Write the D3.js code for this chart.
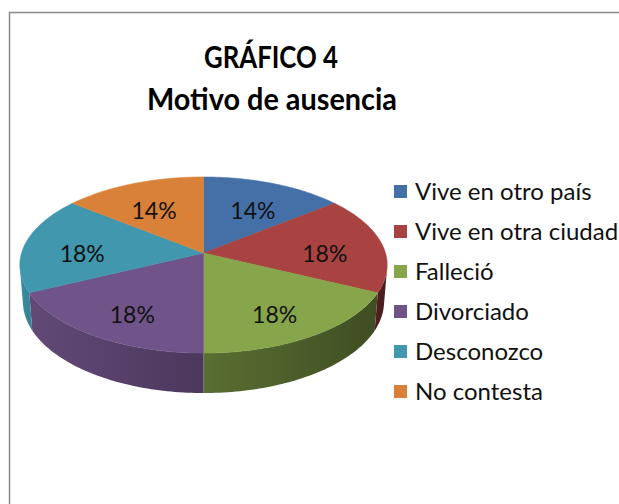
<!DOCTYPE html>
<html>
<head>
<meta charset="utf-8">
<script src="https://cdn.jsdelivr.net/npm/d3@7"></script>
<style>
  body { margin: 0; background: #fff; }
  svg { display: block; }
  text { font-family: Lato, "Open Sans", sans-serif; }
</style>
</head>
<body>
<div id="chart"></div>
<script>
// Chart data
const categories = ["Vive en otro país", "Vive en otra ciudad", "Falleció", "Divorciado", "Desconozco", "No contesta"];
const values = [4, 5, 5, 5, 5, 4];
const colors = ["#4470A7", "#A84342", "#87A54A", "#705489", "#4097AE", "#D98139"];
const titleLines = ["GRÁFICO 4", "Motivo de ausencia"];

const width = 619, height = 504;

const svg = d3.select("#chart")
  .append("svg")
  .attr("width", width)
  .attr("height", height);

const defs = svg.append("defs");

// Chart area border (runs off the right and bottom of the picture)
svg.append("rect")
  .attr("x", 9.5)
  .attr("y", 12.5)
  .attr("width", width + 20)
  .attr("height", height + 20)
  .attr("fill", "none")
  .attr("stroke", "#8a8a8a")
  .attr("stroke-width", 1.5);

// Title (Calibri-like proportions: squeeze the wider fallback font)
svg.append("text")
  .attr("x", 271)
  .attr("y", 68)
  .attr("text-anchor", "middle")
  .attr("font-size", 30)
  .attr("font-weight", "bold")
  .attr("textLength", 134)
  .attr("lengthAdjust", "spacingAndGlyphs")
  .attr("fill", "#000")
  .text(titleLines[0]);

svg.append("text")
  .attr("x", 272)
  .attr("y", 110)
  .attr("text-anchor", "middle")
  .attr("font-size", 30)
  .attr("font-weight", "bold")
  .attr("textLength", 250)
  .attr("lengthAdjust", "spacingAndGlyphs")
  .attr("fill", "#000")
  .text(titleLines[1]);

// 3D perspective projection of a flat disc
const cx = 203.5, cy = 253;
const K = 1174;          // focal scale
const R = 0.155;         // disc radius (camera distance = 1)
const H = 0.0357;        // disc thickness
const sinP = 0.475, cosP = Math.sqrt(1 - sinP * sinP);

function project(theta, r, z) {
  const X = r * Math.sin(theta);
  const Y = r * Math.cos(theta);
  const depth = 1 + Y * cosP - z * sinP;
  const up = Y * sinP + z * cosP;
  return [cx + K * X / depth, cy - K * up / depth];
}

// Wall faces the camera where cos(theta) < -R / cos(phi)
const wallLimit = Math.acos(-R / cosP);
const wallStart = wallLimit, wallEnd = 2 * Math.PI - wallLimit;

const pie = d3.pie().sort(null).value((d) => d);
const arcs = pie(values);
const pct = d3.format(".0%");
const total = d3.sum(values);

const line = d3.line();

function samples(a0, a1) {
  const n = Math.max(2, Math.ceil((a1 - a0) / 0.02));
  return d3.range(n + 1).map((i) => a0 + (a1 - a0) * i / n);
}

// Shade factor for the side wall, lighter on the left
function shade(theta) {
  const t = (theta - wallStart) / (wallEnd - wallStart);
  return 0.42 + 0.5 * t;
}

function scaleColor(c, k) {
  const rgb = d3.rgb(c);
  return d3.rgb(rgb.r * k, rgb.g * k, rgb.b * k).formatHex();
}

const walls = svg.append("g");
const tops = svg.append("g");

arcs.forEach((d, i) => {
  // Side wall
  const a0 = Math.max(d.startAngle, wallStart);
  const a1 = Math.min(d.endAngle, wallEnd);
  if (a1 > a0) {
    const angs = samples(a0, a1);
    const topPts = angs.map((a) => project(a, R, 0));
    const botPts = angs.slice().reverse().map((a) => project(a, R, -H));
    const gid = "wall" + i;
    const g = defs.append("linearGradient")
      .attr("id", gid)
      .attr("gradientUnits", "userSpaceOnUse")
      .attr("x1", topPts[0][0]).attr("y1", 0)
      .attr("x2", topPts[topPts.length - 1][0]).attr("y2", 0);
    g.append("stop").attr("offset", 0).attr("stop-color", scaleColor(colors[i], shade(a0)));
    g.append("stop").attr("offset", 1).attr("stop-color", scaleColor(colors[i], shade(a1)));
    walls.append("path")
      .attr("d", line(topPts.concat(botPts)) + "Z")
      .attr("fill", `url(#${gid})`);
  }

  // Top face
  const pts = [project(0, 0, 0)].concat(samples(d.startAngle, d.endAngle).map((a) => project(a, R, 0)));
  tops.append("path")
    .attr("d", line(pts) + "Z")
    .attr("fill", colors[i])
    .attr("stroke", colors[i])
    .attr("stroke-width", 0.5);
});

// Percentage labels
arcs.forEach((d, i) => {
  const mid = (d.startAngle + d.endAngle) / 2;
  const [lx, ly] = project(mid, R * 0.68, -H * 0.2);
  svg.append("text")
    .attr("x", lx)
    .attr("y", ly)
    .attr("dy", "0.36em")
    .attr("text-anchor", "middle")
    .attr("font-size", 23)
    .attr("fill", "#111")
    .text(pct(d.data / total));
});

// Legend
const legend = svg.append("g").attr("transform", "translate(394,192)");
categories.forEach((c, i) => {
  const row = legend.append("g").attr("transform", `translate(0,${i * 40})`);
  row.append("rect")
    .attr("x", 0)
    .attr("y", -7)
    .attr("width", 13)
    .attr("height", 13)
    .attr("fill", colors[i]);
  row.append("text")
    .attr("x", 21)
    .attr("y", 0)
    .attr("dy", "0.35em")
    .attr("font-size", 24)
    .attr("fill", "#111")
    .text(c);
});
</script>
</body>
</html>
